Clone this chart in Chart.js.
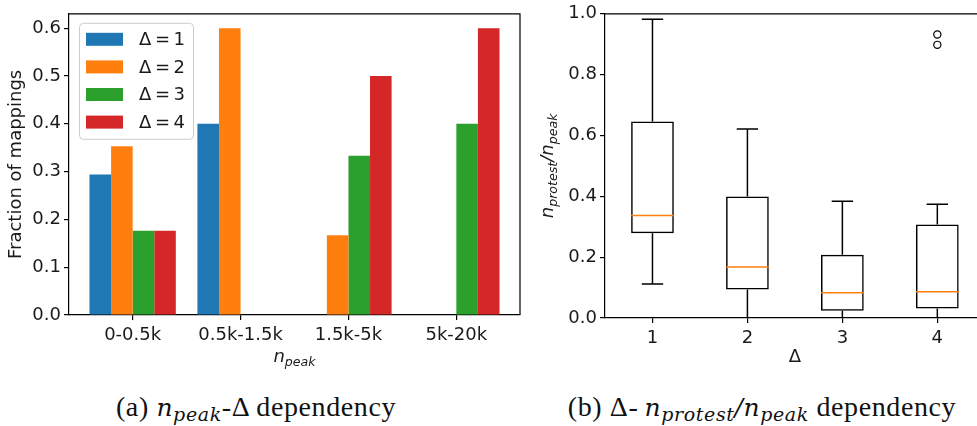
<!DOCTYPE html>
<html><head><meta charset="utf-8">
<script src="https://cdn.jsdelivr.net/npm/chart.js@4/dist/chart.umd.min.js"></script>
<style>
html,body{margin:0;padding:0;background:#fff;overflow:hidden;width:977px;height:426px;}
#wa{position:absolute;left:0;top:0;width:540px;height:370px;}
#wb{position:absolute;left:520px;top:0;width:470px;height:370px;}
.cap{position:absolute;top:391px;font-family:"Liberation Serif","Times New Roman",serif;font-size:28px;line-height:32px;letter-spacing:0.6px;color:#111;white-space:nowrap;transform:translateX(-50%);}
.cap .m{font-family:"DejaVu Serif",serif;font-style:italic;font-size:25px;}
.cap sub{font-family:"DejaVu Serif",serif;font-style:italic;font-size:19px;vertical-align:-5px;line-height:0;}
</style></head>
<body>
<div id="wa"><canvas id="ca" width="540" height="370"></canvas></div>
<div id="wb"><canvas id="cb" width="470" height="370"></canvas></div>
<div class="cap" style="left:256px">(a) <span class="m">n</span><sub>peak</sub>-Δ dependency</div>
<div class="cap" style="left:762px">(b) Δ-&#8201;<span class="m">n</span><sub>protest</sub><span class="m">/n</span><sub>peak</sub> dependency</div>
<script>
// ---------- data: left chart (fraction of mappings per n_peak bin) ----------
const bins = ['0-0.5k', '0.5k-1.5k', '1.5k-5k', '5k-20k'];
const deltaLabels = ['Δ = 1', 'Δ = 2', 'Δ = 3', 'Δ = 4'];
const fracDelta1 = [0.294, 0.400, 0.000, 0.000];
const fracDelta2 = [0.353, 0.600, 0.167, 0.000];
const fracDelta3 = [0.176, 0.000, 0.333, 0.400];
const fracDelta4 = [0.176, 0.000, 0.500, 0.600];
const yTicksA = [0.0, 0.1, 0.2, 0.3, 0.4, 0.5, 0.6];

// ---------- data: right chart (box plot of n_protest/n_peak per Δ) ----------
const deltas = [1, 2, 3, 4];
const whiskerLow = [0.112, 0.000, 0.000, 0.000];
const quart1 = [0.279, 0.094, 0.024, 0.031];
const medians = [0.337, 0.168, 0.083, 0.086];
const quart3 = [0.646, 0.399, 0.208, 0.307];
const whiskerHigh = [0.982, 0.621, 0.384, 0.374];
const outlierDelta = [4, 4];
const outlierValue = [0.932, 0.898];
const yTicksB = [0.0, 0.2, 0.4, 0.6, 0.8, 1.0];

// ---------- styles ----------
const palette = ['#1f77b4', '#ff7f0e', '#2ca02c', '#d62728'];
const FONT = '"DejaVu Sans", Verdana, sans-serif';
const TXT = '#1a1a1a';
const BOX_W = 0.45;

const frame = {
  id: 'frame',
  afterDatasetsDraw(chart) {
    const a = chart.chartArea, ctx = chart.ctx;
    ctx.save();
    ctx.strokeStyle = '#000'; ctx.lineWidth = 1.2;
    ctx.beginPath();
    ctx.moveTo(a.left, a.top); ctx.lineTo(a.right, a.top); ctx.lineTo(a.right, a.bottom);
    ctx.stroke();
    ctx.restore();
  }
};

const mathLabel = {
  id: 'mathLabel',
  afterDraw(chart, args, opts) {
    const ctx = chart.ctx, a = chart.chartArea;
    (opts.items || []).forEach(it => {
      ctx.save();
      const cx = it.axis === 'x' ? (a.left + a.right) / 2 : it.pos;
      const cy = it.axis === 'x' ? it.pos : (a.top + a.bottom) / 2;
      ctx.translate(cx, cy);
      if (it.axis === 'y') ctx.rotate(-Math.PI / 2);
      const main = 'oblique 18px ' + FONT, sub = 'oblique 12.6px ' + FONT;
      let w = 0;
      it.parts.forEach(p => { ctx.font = p.sub ? sub : main; p.w = ctx.measureText(p.t).width; w += p.w; });
      let x = -w / 2;
      ctx.fillStyle = TXT; ctx.textBaseline = 'alphabetic'; ctx.textAlign = 'left';
      it.parts.forEach(p => { ctx.font = p.sub ? sub : main; ctx.fillText(p.t, x, p.sub ? 3.5 : 0); x += p.w; });
      ctx.restore();
    });
  }
};

const innerLegend = {
  id: 'innerLegend',
  afterDraw(chart, args, opts) {
    const ctx = chart.ctx, a = chart.chartArea;
    const bx = a.left + 10, by = a.top + 9, bw = 114, bh = 116, r = 4;
    ctx.save();
    ctx.fillStyle = 'rgba(255,255,255,0.8)';
    ctx.strokeStyle = '#cccccc'; ctx.lineWidth = 1;
    ctx.beginPath();
    ctx.roundRect(bx + 0.5, by + 0.5, bw, bh, r);
    ctx.fill(); ctx.stroke();
    ctx.font = '18px ' + FONT; ctx.textBaseline = 'middle'; ctx.textAlign = 'left';
    chart.data.datasets.forEach((ds, k) => {
      const cy = by + 16.5 + k * 27.6;
      ctx.fillStyle = ds.backgroundColor;
      ctx.fillRect(bx + 7, cy - 6.5, 37, 13);
      ctx.fillStyle = TXT;
      ctx.fillText(ds.label.replace(/ /g, '\u2009'), bx + 60, cy + 1);
    });
    ctx.restore();
  }
};

const tickFont = { family: FONT, size: 18 };
const gridStyle = { drawOnChartArea: false, drawTicks: true, tickLength: 5, color: '#000', lineWidth: 1.2, offset: false };
const borderStyle = { display: true, color: '#000', width: 1.2 };

// ---------- left chart ----------
const seriesA = [fracDelta1, fracDelta2, fracDelta3, fracDelta4];
new Chart(document.getElementById('ca'), {
  type: 'bar',
  data: {
    datasets: seriesA.map((s, k) => ({
      label: deltaLabels[k],
      data: s.map((v, i) => ({ x: i, y: v })),
      backgroundColor: palette[k],
      borderWidth: 0,
      categoryPercentage: 0.8,
      barPercentage: 1.0
    }))
  },
  options: {
    responsive: false, animation: false, devicePixelRatio: 1,
    layout: { padding: { left: 0, top: 3, right: 20, bottom: 0 } },
    plugins: {
      legend: { display: false }, tooltip: { enabled: false },
      mathLabel: { items: [{ axis: 'x', pos: 362, parts: [{ t: 'n' }, { t: 'peak', sub: true }] }] }
    },
    scales: {
      x: {
        type: 'linear', min: -0.59, max: 3.59, offset: false,
        afterBuildTicks: s => { s.ticks = bins.map((b, i) => ({ value: i })); },
        afterFit: s => { s.height = 55; },
        ticks: { callback: v => bins[v], font: tickFont, color: TXT, padding: 5, autoSkip: false, maxRotation: 0 },
        grid: gridStyle, border: borderStyle
      },
      y: {
        min: 0, max: 0.63,
        afterBuildTicks: s => { s.ticks = yTicksA.map(v => ({ value: v })); },
        afterFit: s => { s.width = 69; },
        ticks: { callback: v => v.toFixed(1), font: tickFont, color: TXT, padding: 3 },
        grid: gridStyle, border: borderStyle,
        title: { display: true, text: 'Fraction of mappings', font: { family: FONT, size: 18 }, color: TXT, padding: { top: 6, bottom: 0 } }
      }
    }
  },
  plugins: [frame, innerLegend, mathLabel]
});

// ---------- right chart ----------
const whiskerData = [], capData = [], medianData = [];
deltas.forEach((d, i) => {
  whiskerData.push({ x: d, y: quart3[i] }, { x: d, y: whiskerHigh[i] }, { x: d, y: null },
                   { x: d, y: quart1[i] }, { x: d, y: whiskerLow[i] }, { x: d, y: null });
  capData.push({ x: d - BOX_W / 4, y: whiskerHigh[i] }, { x: d + BOX_W / 4, y: whiskerHigh[i] }, { x: d, y: null },
               { x: d - BOX_W / 4, y: whiskerLow[i] }, { x: d + BOX_W / 4, y: whiskerLow[i] }, { x: d, y: null });
  medianData.push({ x: d - BOX_W / 2, y: medians[i] }, { x: d + BOX_W / 2, y: medians[i] }, { x: d, y: null });
});

new Chart(document.getElementById('cb'), {
  type: 'bar',
  data: {
    datasets: [
      { type: 'line', label: 'median', data: medianData, borderColor: '#ff7f0e', borderWidth: 1.5, pointRadius: 0, spanGaps: false, order: 0 },
      { type: 'bar', label: 'box', data: deltas.map((d, i) => ({ x: d, y: [quart1[i], quart3[i]] })),
        backgroundColor: 'rgba(0,0,0,0)', borderColor: '#000', borderWidth: 1.5, borderSkipped: false,
        grouped: false, categoryPercentage: 1.0, barPercentage: BOX_W, order: 1 },
      { type: 'line', label: 'whisker', data: whiskerData, borderColor: '#000', borderWidth: 1.5, pointRadius: 0, spanGaps: false, order: 2 },
      { type: 'line', label: 'cap', data: capData, borderColor: '#000', borderWidth: 1.5, pointRadius: 0, spanGaps: false, order: 2 },
      { type: 'scatter', label: 'outliers', data: outlierDelta.map((d, i) => ({ x: d, y: outlierValue[i] })),
        pointStyle: 'circle', pointRadius: 3.6, backgroundColor: 'rgba(0,0,0,0)', borderColor: '#000', borderWidth: 1.2, order: 0 }
    ]
  },
  options: {
    responsive: false, animation: false, devicePixelRatio: 1,
    layout: { padding: { left: 0, top: 10, right: 5, bottom: 0 } },
    plugins: {
      legend: { display: false }, tooltip: { enabled: false },
      mathLabel: { items: [{ axis: 'y', pos: 33, parts: [{ t: 'n' }, { t: 'protest', sub: true }, { t: '/' }, { t: 'n' }, { t: 'peak', sub: true }] }] }
    },
    scales: {
      x: {
        type: 'linear', min: 0.5, max: 4.5, offset: false,
        afterBuildTicks: s => { s.ticks = deltas.map(d => ({ value: d })); },
        afterFit: s => { s.height = 52; },
        ticks: { callback: v => String(v), font: tickFont, color: TXT, padding: 5, autoSkip: false, maxRotation: 0 },
        grid: gridStyle, border: borderStyle,
        title: { display: true, text: 'Δ', font: { family: FONT, size: 18 }, color: TXT, padding: { top: 0, bottom: 2 } }
      },
      y: {
        min: 0, max: 1.0,
        afterBuildTicks: s => { s.ticks = yTicksB.map(v => ({ value: v })); },
        afterFit: s => { s.width = 85; },
        ticks: { callback: v => v.toFixed(1), font: tickFont, color: TXT, padding: 3 },
        grid: gridStyle, border: borderStyle
      }
    }
  },
  plugins: [frame, mathLabel]
});
</script>
</body></html>
